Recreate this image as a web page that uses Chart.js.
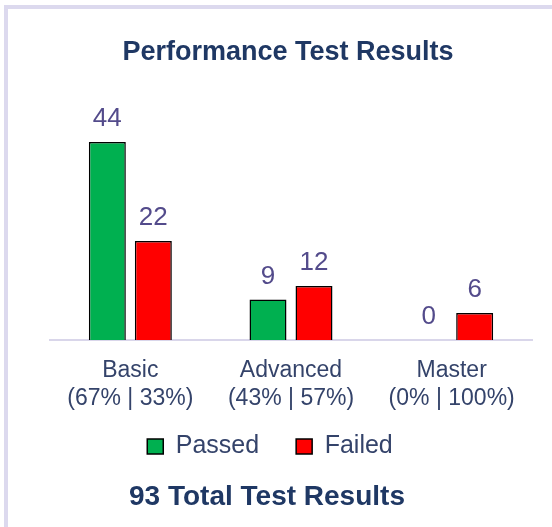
<!DOCTYPE html>
<html>
<head>
<meta charset="utf-8">
<script src="https://cdn.jsdelivr.net/npm/chart.js@4"></script>
<style>
  html, body { margin: 0; padding: 0; background: #ffffff; }
  #frame { position: absolute; left: 4px; top: 5px; width: 700px; height: 700px;
           border-left: 4px solid #dcd9ee; border-top: 4px solid #dcd9ee; }
  #wrap { position: absolute; left: 0; top: 0; width: 552px; height: 527px; overflow: hidden; }
</style>
</head>
<body>
<div id="wrap">
  <div id="frame"></div>
  <canvas id="c" width="552" height="527" style="position:absolute;left:0;top:0;"></canvas>
</div>
<script>
const categories = ['Basic', 'Advanced', 'Master'];
const shareLabels = ['(67% | 33%)', '(43% | 57%)', '(0% | 100%)'];
const passed = [44, 9, 0];
const failed = [22, 12, 6];
const seriesNames = ['Passed', 'Failed'];
const chartTitle = 'Performance Test Results';
const footerText = '93 Total Test Results';

const valueLabels = {
  id: 'valueLabels',
  afterDatasetsDraw(chart) {
    const ctx = chart.ctx;
    ctx.save();
    ctx.font = '26px "Liberation Sans", Arial, sans-serif';
    ctx.fillStyle = '#534b8b';
    ctx.textAlign = 'center';
    ctx.textBaseline = 'alphabetic';
    chart.data.datasets.forEach((ds, di) => {
      const meta = chart.getDatasetMeta(di);
      meta.data.forEach((el, i) => {
        ctx.fillText(String(ds.data[i]), el.x, el.y - 16);
      });
    });
    ctx.restore();
  }
};

const shiftBoxes = {
  id: 'shiftBoxes',
  afterLayout(chart) {
    const shift = (box, dx, dy) => {
      if (box) { box.left += dx; box.right += dx; box.top += dy; box.bottom += dy; }
    };
    shift(chart.titleBlock, -3, 0);
    shift(chart.legend, -21, -15);
    const sub = chart.boxes.find(b => b.options && b.options.text === footerText);
    shift(sub, -24, 0);
  }
};

new Chart(document.getElementById('c'), {
  type: 'bar',
  data: {
    labels: categories.map((c, i) => [c, shareLabels[i]]),
    datasets: [
      { label: seriesNames[0], data: passed, backgroundColor: '#00b050', borderColor: '#000000', borderWidth: 1.5 },
      { label: seriesNames[1], data: failed, backgroundColor: '#ff0000', borderColor: '#000000', borderWidth: 1.5 }
    ]
  },
  options: {
    responsive: false,
    animation: false,
    devicePixelRatio: 1,
    categoryPercentage: 0.5726,
    barPercentage: 0.804,
    layout: { padding: { left: 50, right: 20, top: 0, bottom: 0 } },
    scales: {
      x: {
        grid: { display: false, drawTicks: false },
        border: { display: true, color: '#d9d6ea', width: 2 },
        ticks: {
          padding: 17,
          color: '#34436a',
          font: { family: '"Liberation Sans", Arial, sans-serif', size: 23, lineHeight: '28px' },
          maxRotation: 0, autoSkip: false
        },
        afterFit(scale) { scale.height = 72; }
      },
      y: { display: false, min: 0, max: 50 }
    },
    plugins: {
      title: {
        display: true,
        text: chartTitle,
        color: '#1f3864',
        font: { family: '"Liberation Sans", Arial, sans-serif', size: 27, weight: 'bold', lineHeight: 1.2 },
        padding: { top: 36, bottom: 46.6 }
      },
      subtitle: {
        display: true,
        position: 'bottom',
        text: footerText,
        color: '#1f3864',
        font: { family: '"Liberation Sans", Arial, sans-serif', size: 28, weight: 'bold', lineHeight: '26px' },
        padding: { top: 0, bottom: 17 }
      },
      legend: {
        position: 'bottom',
        labels: {
          boxWidth: 16, boxHeight: 15, padding: 37,
          color: '#34436a',
          font: { family: '"Liberation Sans", Arial, sans-serif', size: 25 }
        }
      },
      tooltip: { enabled: false }
    }
  },
  plugins: [valueLabels, shiftBoxes]
});
</script>
</body>
</html>
